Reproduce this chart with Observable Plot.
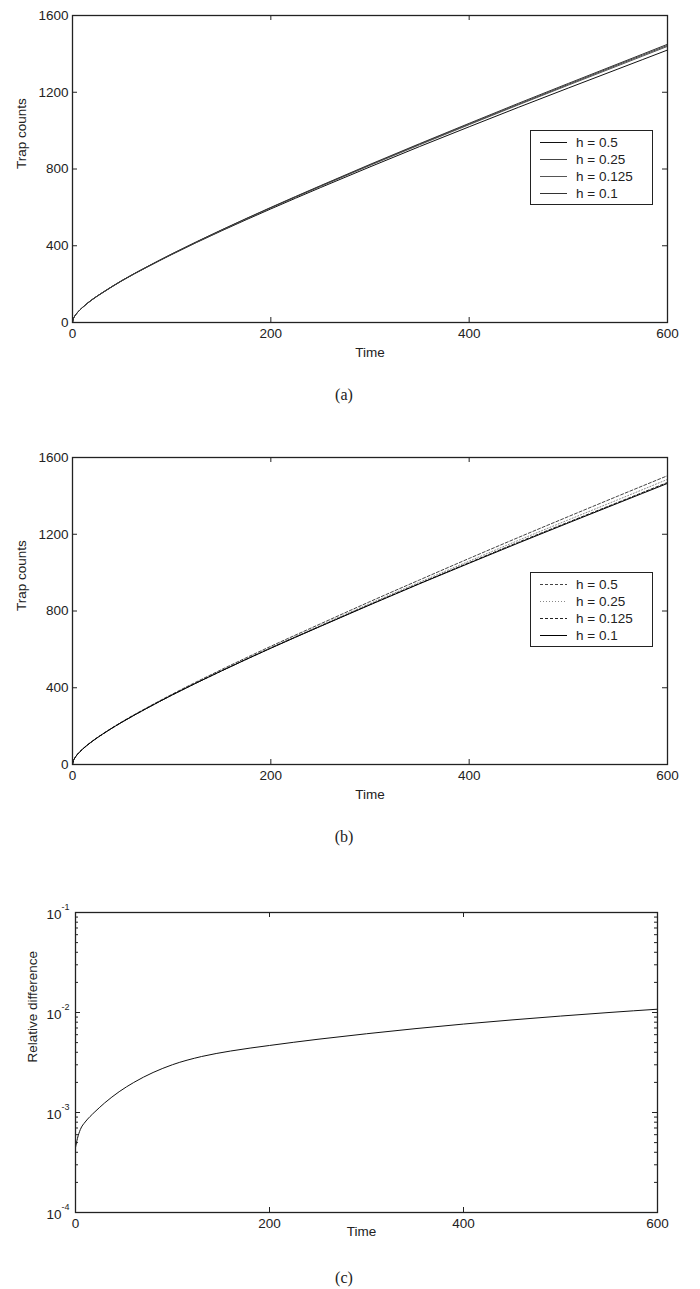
<!DOCTYPE html>
<html>
<head>
<meta charset="utf-8">
<script src="https://cdn.jsdelivr.net/npm/d3@7"></script>
<script src="https://cdn.jsdelivr.net/npm/@observablehq/plot@0.6"></script>
<style>
  body { margin: 0; background: #fff; }
  #fig { position: relative; width: 700px; height: 1289px; background: #fff; font-family: "Liberation Sans", Arial, sans-serif; color: #222; }
  #fig > .panel { position: absolute; left: 0; }
  .legend { position: absolute; border: 1px solid #222; background: #fff; width: 121px; height: 73px; }
  .legend svg { display: block; }
  .caption { position: absolute; width: 60px; margin-left: -30px; text-align: center; font-family: "Liberation Serif", "Times New Roman", serif; font-size: 16px; line-height: 18px; color: #222; }
</style>
</head>
<body>
<div id="fig"></div>
<script>
// Sampling times shared by the trap-count curves
const times = [0, 1, 2, 5, 10, 20, 30, 50, 75, 100, 150, 200, 250, 300, 350, 400, 450, 500, 550, 600];

// (a) trap counts for each step size
const aH05   = [0, 21, 31, 52, 78, 120, 154, 218, 288, 354, 477, 592, 703, 811, 917, 1020, 1122, 1222, 1321, 1420];
const aH025  = [0, 21, 31, 52, 78, 120, 155, 219, 290, 356, 481, 598, 711, 821, 929, 1034, 1138, 1241, 1343, 1444];
const aH0125 = [0, 21, 31, 52, 78, 120, 155, 219, 289, 356, 480, 597, 709, 819, 926, 1031, 1135, 1237, 1338, 1439];
const aH01   = [0, 21, 31, 52, 78, 120, 155, 219, 290, 357, 482, 600, 713, 824, 932, 1038, 1143, 1246, 1348, 1450];

// (b) trap counts for each step size
const bH05   = [0, 21, 31, 53, 80, 122, 158, 223, 296, 365, 494, 616, 733, 849, 962, 1074, 1184, 1292, 1399, 1505];
const bH025  = [0, 21, 31, 53, 79, 121, 157, 221, 294, 362, 489, 610, 725, 839, 950, 1060, 1169, 1275, 1380, 1486];
const bH0125 = [0, 21, 31, 53, 79, 121, 157, 221, 293, 361, 487, 607, 721, 834, 944, 1052, 1159, 1263, 1366, 1470];
const bH01   = [0, 21, 31, 53, 79, 121, 157, 221, 293, 361, 487, 606, 720, 832, 942, 1049, 1155, 1259, 1362, 1465];

// (c) relative difference over time
const cTimes  = [0, 2, 5, 10, 15, 20, 30, 45, 60, 80, 100, 130, 160, 200, 250, 300, 350, 400, 450, 500, 550, 600];
const relDiff = [4.47e-4, 5.5e-4, 6.76e-4, 8.04e-4, 9.12e-4, 1.016e-3, 1.245e-3, 1.614e-3, 1.995e-3, 2.512e-3, 3.006e-3, 3.63e-3, 4.12e-3, 4.68e-3, 5.4e-3, 6.13e-3, 6.89e-3, 7.66e-3, 8.43e-3, 9.21e-3, 1.0e-2, 1.079e-2];

// Axis ticks
const timeTicks  = [0, 200, 400, 600];
const countTicks = [0, 400, 800, 1200, 1600];
const decades    = [1e-4, 1e-3, 1e-2, 1e-1];
const decadeExps = ["-4", "-3", "-2", "-1"];
const minorMultipliers = [2, 3, 4, 5, 6, 7, 8, 9];

const stepLabels = ["h = 0.5", "h = 0.25", "h = 0.125", "h = 0.1"];

const seriesA = [
  {label: stepLabels[0], values: aH05,   stroke: "#111", dash: null},
  {label: stepLabels[1], values: aH025,  stroke: "#444", dash: null},
  {label: stepLabels[2], values: aH0125, stroke: "#555", dash: null},
  {label: stepLabels[3], values: aH01,   stroke: "#333", dash: null}
];
const seriesB = [
  {label: stepLabels[0], values: bH05,   stroke: "#444", dash: "3,2"},
  {label: stepLabels[1], values: bH025,  stroke: "#888", dash: "1,2"},
  {label: stepLabels[2], values: bH0125, stroke: "#222", dash: "3,2"},
  {label: stepLabels[3], values: bH01,   stroke: "#000", dash: null}
];

const fig = document.getElementById("fig");
const font = {fontFamily: "'Liberation Sans', Arial, sans-serif", fontSize: "13.5px", color: "#222", background: "none", overflow: "visible"};
const plain = d => String(d);
const TICK = 5;

function place(node, top) {
  node.classList.add("panel");
  node.style.top = top + "px";
  fig.appendChild(node);
}

function countsPanel(series, top) {
  const W = 700, H = 370, mt = 15, mb = 48, ml = 72, mr = 33;
  const innerW = W - ml - mr, innerH = H - mt - mb;
  const lines = series.map(s => Plot.line(times.map((t, i) => ({t, v: s.values[i]})), {
    x: "t", y: "v", stroke: s.stroke, strokeWidth: 1, strokeDasharray: s.dash, curve: "monotone-x"
  }));
  const inner = timeTicks.slice(1, -1);
  const innerY = countTicks.slice(1, -1);
  const chart = Plot.plot({
    width: W, height: H, marginTop: mt, marginBottom: mb, marginLeft: ml, marginRight: mr,
    style: font,
    x: {domain: [0, 600], ticks: timeTicks, tickFormat: plain, tickSize: 0, tickPadding: 6, label: null},
    y: {domain: [0, 1600], ticks: countTicks, tickFormat: plain, tickSize: 0, tickPadding: 4, label: null},
    marks: [
      ...lines,
      Plot.tickX(inner, {x: d => d, insetTop: innerH - TICK, stroke: "#222"}),
      Plot.tickX(inner, {x: d => d, insetBottom: innerH - TICK, stroke: "#222"}),
      Plot.tickY(innerY, {y: d => d, insetRight: innerW - TICK, stroke: "#222"}),
      Plot.tickY(innerY, {y: d => d, insetLeft: innerW - TICK, stroke: "#222"}),
      Plot.frame({stroke: "#222", strokeWidth: 1.3}),
      Plot.text(["Time"], {text: d => d, frameAnchor: "bottom", dy: 30, lineAnchor: "middle", fill: "#222"}),
      Plot.text(["Trap counts"], {text: d => d, frameAnchor: "left", dx: -51, rotate: -90, lineAnchor: "middle", fill: "#222"})
    ]
  });
  place(chart, top);
}

function legend(series, left, top) {
  const box = document.createElement("div");
  box.className = "legend";
  box.style.left = left + "px";
  box.style.top = top + "px";
  const svg = d3.create("svg").attr("width", 121).attr("height", 73);
  series.forEach((s, i) => {
    const y = 11.5 + i * 17;
    svg.append("line").attr("x1", 9).attr("x2", 36).attr("y1", y).attr("y2", y)
      .attr("stroke", s.stroke).attr("stroke-width", 1)
      .attr("stroke-dasharray", s.dash);
    svg.append("text").attr("x", 45).attr("y", y).attr("dy", "0.35em")
      .attr("font-size", 13.5).attr("fill", "#222")
      .attr("font-family", "'Liberation Sans', Arial, sans-serif")
      .text(s.label);
  });
  box.appendChild(svg.node());
  fig.appendChild(box);
}

function caption(text, x, y) {
  const d = document.createElement("div");
  d.className = "caption";
  d.style.left = x + "px";
  d.style.top = (y - 9) + "px";
  d.textContent = text;
  fig.appendChild(d);
}

function relDiffPanel(top) {
  const W = 700, H = 340, mt = 15, mb = 25, ml = 75, mr = 43;
  const innerW = W - ml - mr, innerH = H - mt - mb;
  const minor = decades.slice(0, -1).flatMap(d => minorMultipliers.map(m => m * d));
  const inner = timeTicks.slice(1, -1);
  const innerDecades = decades.slice(1, -1);
  const chart = Plot.plot({
    width: W, height: H, marginTop: mt, marginBottom: mb, marginLeft: ml, marginRight: mr,
    style: font,
    x: {domain: [0, 600], ticks: timeTicks, tickFormat: plain, tickSize: 0, tickPadding: 6, label: null},
    y: {type: "log", domain: [1e-4, 1e-1], axis: null},
    marks: [
      Plot.line(cTimes.map((t, i) => ({t, v: relDiff[i]})), {x: "t", y: "v", stroke: "#111", strokeWidth: 1, curve: "monotone-x"}),
      Plot.tickX(inner, {x: d => d, insetTop: innerH - TICK, stroke: "#222"}),
      Plot.tickX(inner, {x: d => d, insetBottom: innerH - TICK, stroke: "#222"}),
      Plot.tickY(innerDecades, {y: d => d, insetRight: innerW - TICK, stroke: "#222"}),
      Plot.tickY(innerDecades, {y: d => d, insetLeft: innerW - TICK, stroke: "#222"}),
      Plot.tickY(minor, {y: d => d, insetRight: innerW - 3, stroke: "#222"}),
      Plot.tickY(minor, {y: d => d, insetLeft: innerW - 3, stroke: "#222"}),
      Plot.frame({stroke: "#222", strokeWidth: 1.3}),
      Plot.text(decades, {y: d => d, text: () => "10", frameAnchor: "left", dx: -14, dy: 2, textAnchor: "end", fill: "#222"}),
      Plot.text(decades, {y: d => d, text: (d, i) => decadeExps[i], frameAnchor: "left", dx: -14, dy: -5, textAnchor: "start", fontSize: 9, fill: "#222"}),
      Plot.text(["Time"], {text: d => d, frameAnchor: "bottom", dy: 19, dx: -5, lineAnchor: "middle", fill: "#222"}),
      Plot.text(["Relative difference"], {text: d => d, frameAnchor: "left", dx: -43, rotate: -90, lineAnchor: "middle", fill: "#222"})
    ]
  });
  place(chart, top);
}

countsPanel(seriesA, 0);
legend(seriesA, 530, 130);
caption("(a)", 344, 395);

countsPanel(seriesB, 442);
legend(seriesB, 530, 572);
caption("(b)", 344, 837);

relDiffPanel(897);
caption("(c)", 344, 1278);
</script>
</body>
</html>
